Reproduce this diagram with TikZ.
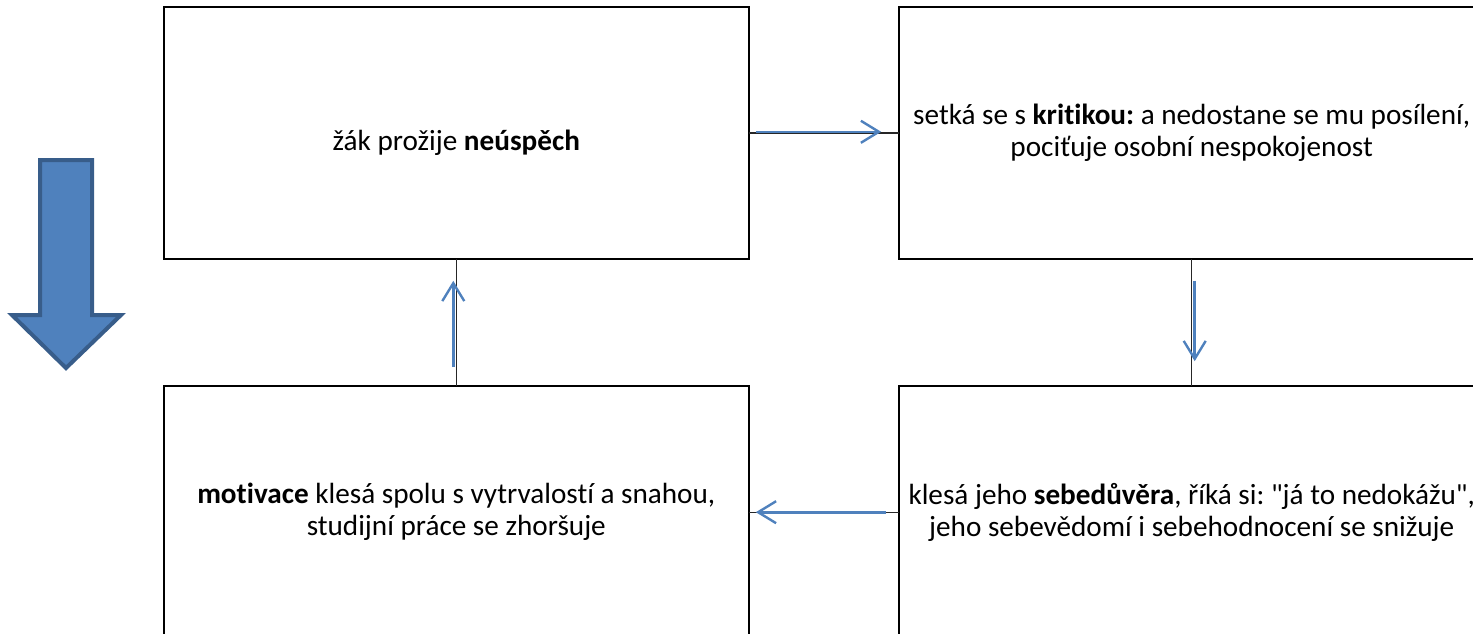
\documentclass[tikz,border=0pt]{standalone}
\usepackage{fontspec}
\setmainfont{Carlito}[Ligatures={TeX,NoCommon}]
\usetikzlibrary{arrows.meta}
\definecolor{flowblue}{HTML}{4F81BD}
\definecolor{arrowedge}{HTML}{385D8A}
\frenchspacing

\begin{document}
\begin{tikzpicture}[x=0.5pt,y=-0.5pt,
  every matrix/.style={ampersand replacement=\&,column sep=74pt,row sep=62.5pt},
  box/.style={draw, line width=1.2pt, outer sep=0pt, inner sep=0pt,
    minimum width=292.5pt, minimum height=126pt, align=center,
    font=\fontsize{14.6}{16}\selectfont},
  link/.style={line width=0.7pt, black!85},
  flow/.style={-{Straight Barb[length=9pt,width=11pt,line width=1.2pt]}, line width=1.3pt, flowblue},
  bigarrow/.style={fill=flowblue, draw=arrowedge, line width=2pt, line join=miter}]

\useasboundingbox (0,0) rectangle (1473,633);

% Position the boxes using a matrix layout
\matrix at (824,322.5) [inner sep=0pt] {
  \node[box] (failure) {\raisebox{-3.5pt}[\height][0pt]{žák prožije \textbf{neúspěch}}};
  \& \node[box] (critique) {setká se s \textbf{kritikou:} a nedostane se mu posílení,\\ pociťuje osobní nespokojenost};
  \\
  \node[box] (motivation) {\textbf{motivace} klesá spolu s vytrvalostí a snahou,\\ studijní práce se zhoršuje};
  \& \node[box] (confidence) {klesá jeho \textbf{sebedůvěra}, říká si: \textquotedbl já to nedokážu\textquotedbl,\\ jeho sebevědomí i sebehodnocení se snižuje};
  \\
};

% Thin lines between the boxes
\draw [link] (failure) -- (critique);
\draw [link] (critique) -- (confidence);
\draw [link] (confidence) -- (motivation);
\draw [link] (motivation) -- (failure);

% Blue arrows on top of them
\draw [flow] ([xshift=3.5pt,yshift=0.5pt]failure.east) -- ([xshift=-9pt,yshift=0.5pt]critique.west);
\draw [flow] ([xshift=1.5pt,yshift=-11pt]critique.south) -- ([xshift=1.5pt,yshift=12.5pt]confidence.north);
\draw [flow] ([xshift=-6.5pt]confidence.west) -- ([xshift=3.5pt]motivation.east);
\draw [flow] ([xshift=-1.5pt,yshift=9.5pt]motivation.north) -- ([xshift=-1.5pt,yshift=-11pt]failure.south);

% Big arrow on the left
\draw [bigarrow] (40,160) -- (92,160) -- (92,315) -- (121,315) -- (66,368)
  -- (12,315) -- (40,315) -- cycle;

\end{tikzpicture}
\end{document}
